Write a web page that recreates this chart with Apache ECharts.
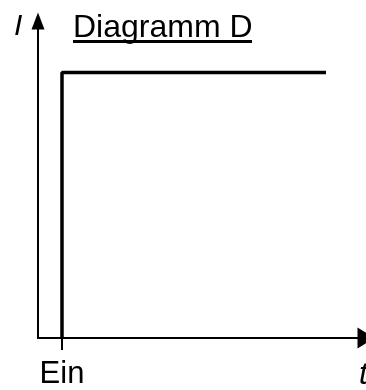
<!DOCTYPE html>
<html>
<head>
<meta charset="utf-8">
<script src="https://cdn.jsdelivr.net/npm/echarts@6/dist/echarts.min.js"></script>
<style>html,body{margin:0;padding:0;background:#fff}#c{width:366px;height:390px}</style>
</head>
<body>
<div id="c"></div>
<script>
// Data
const titleText = 'Diagramm D';
const xName = 't';
const yName = 'I';
const tickValues = [0];
const tickLabels = ['Ein'];
const seriesX = [0, 0, 11];
const seriesY = [0, 1, 1];

const chart = echarts.init(document.getElementById('c'), null, {renderer: 'canvas'});
const font = 'Liberation Sans, Arial, sans-serif';
chart.setOption({
  animation: false,
  backgroundColor: '#fff',
  title: {
    text: titleText, left: 73, top: 12, padding: 0,
    textStyle: {fontFamily: font, fontSize: 32, fontWeight: 'normal', color: '#000'}
  },
  grid: {left: 38, right: 0, top: 21, bottom: 49, containLabel: false},
  xAxis: {
    type: 'value', min: -1, max: 12.667,
    axisLine: {show: true, onZero: false, symbol: ['none', 'triangle'], symbolSize: [21, 17], lineStyle: {color: '#000', width: 2}},
    axisTick: {show: true, customValues: tickValues, length: 12, lineStyle: {color: '#000', width: 2}},
    axisLabel: {show: true, customValues: tickValues, margin: 21, fontFamily: font, fontSize: 31, color: '#000',
      formatter: v => tickLabels[tickValues.indexOf(v)] || ''},
    splitLine: {show: false}
  },
  yAxis: {
    type: 'value', min: 0, max: 1.194,
    axisLine: {show: true, onZero: false, symbol: ['none', 'triangle'], symbolSize: [13, 17], lineStyle: {color: '#000', width: 2}},
    axisTick: {show: false}, axisLabel: {show: false}, splitLine: {show: false}
  },
  graphic: [
    {type: 'text', left: 14, top: 12, style: {text: yName, fontFamily: font, fontSize: 30, fontStyle: 'italic', fill: '#000'}},
    {type: 'text', left: 359, top: 360, style: {text: xName, fontFamily: font, fontSize: 31, fontStyle: 'italic', fill: '#000'}},
    {type: 'rect', shape: {x: 73, y: 40, width: 179, height: 3}, style: {fill: '#000'}}
  ],
  series: [{
    type: 'line', data: seriesX.map((x, i) => [x, seriesY[i]]),
    symbol: 'none', lineStyle: {color: '#000', width: 3.5}
  }]
});
</script>
</body>
</html>
